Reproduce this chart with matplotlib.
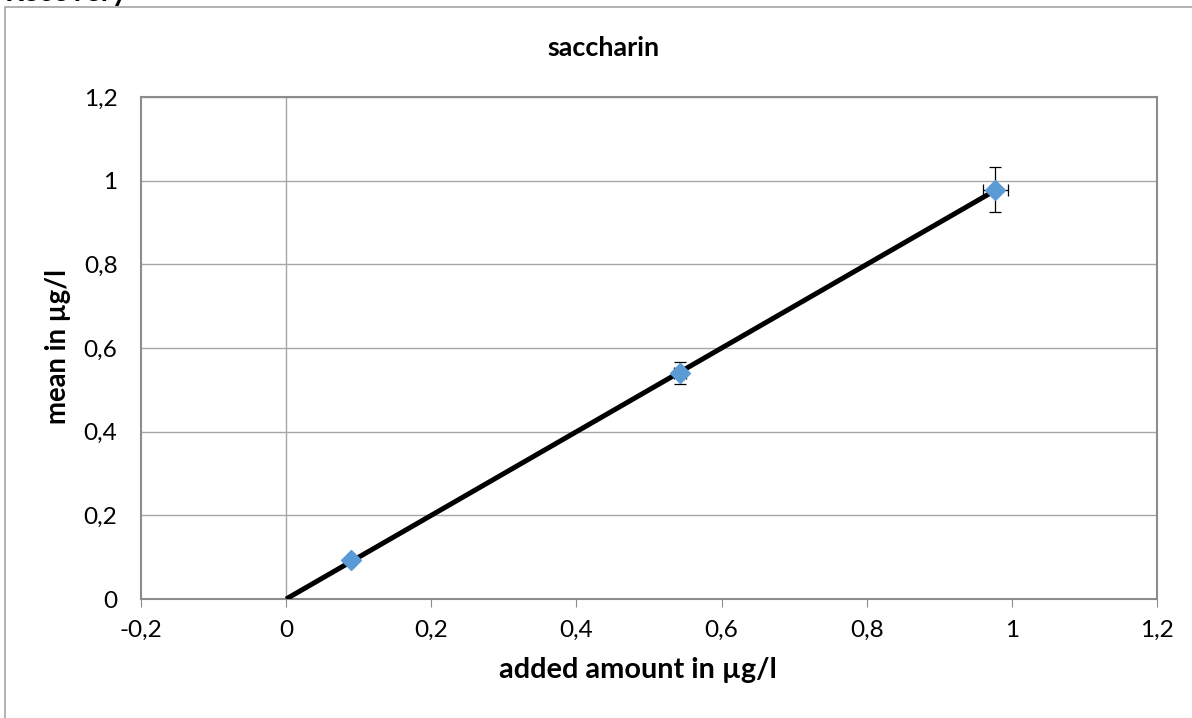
import numpy as np
import matplotlib.pyplot as plt
from matplotlib.patches import Rectangle
from matplotlib.ticker import FuncFormatter

plt.rcParams['font.family'] = ['Lato', 'DejaVu Sans']

# Recovery data (saccharin)
added = [0.090, 0.543, 0.977]
mean = [0.094, 0.540, 0.978]
x_err = [0.0, 0.008, 0.017]
y_err = [0.003, 0.026, 0.054]

# Trend line through origin
slope = np.sum(np.array(added) * np.array(mean)) / np.sum(np.array(added) ** 2)
trend_x = np.array([0.0, added[-1]])
trend_y = slope * trend_x

x_ticks = [-0.2, 0, 0.2, 0.4, 0.6, 0.8, 1, 1.2]
y_ticks = [0, 0.2, 0.4, 0.6, 0.8, 1, 1.2]

W, H = 1192, 718
fig = plt.figure(figsize=(W / 100, H / 100), dpi=100)
renderer = fig.canvas.get_renderer()


def fit_width(t, target, vertical=False):
    # scale the font so the text spans `target` pixels
    bb = t.get_window_extent(renderer)
    size = bb.height if vertical else bb.width
    t.set_fontsize(t.get_fontsize() * target / size)


# outer chart frame (partly outside the picture)
fig.patches.append(Rectangle((5 / W, -0.1), 1.2, 1 - 7 / H + 0.1,
                             transform=fig.transFigure, fill=False,
                             edgecolor='#a6a6a6', linewidth=1.2))
rec = fig.text(5 / W, 1 - 1 / H, "Recovery", fontsize=20, fontweight='bold',
               ha='left', va='baseline')
fit_width(rec, 123)

ax = fig.add_axes([141 / W, 1 - 599 / H, 1016 / W, 502 / H])

ax.plot(trend_x, trend_y, color='black', linewidth=3.6, zorder=3,
        solid_capstyle='butt')
ax.errorbar(added, mean, xerr=x_err, yerr=y_err, fmt='D', color='#5b9bd5',
            markersize=10, ecolor='black', elinewidth=0.9, capsize=4.5,
            capthick=0.9, zorder=4)

ax.set_xlim(-0.2, 1.2)
ax.set_ylim(0, 1.2)
ax.set_xticks(x_ticks)
ax.set_yticks(y_ticks)

fmt = FuncFormatter(lambda v, p: ('%g' % round(v, 2)).replace('.', ','))
ax.xaxis.set_major_formatter(fmt)
ax.yaxis.set_major_formatter(fmt)

ax.grid(axis='y', color='#a6a6a6', linewidth=1)
ax.axvline(0, color='#a6a6a6', linewidth=1, zorder=1)
ax.set_axisbelow(True)

for s in ax.spines.values():
    s.set_color('#8c8c8c')
    s.set_linewidth(1.5)

# tick label size from the width of "0,6" (about 34 px)
probe = fig.text(0, 0, "0,6", fontsize=18)
fit_width(probe, 34)
tick_size = probe.get_fontsize()
probe.remove()

ax.tick_params(axis='x', length=6, color='#8c8c8c', labelsize=tick_size, pad=9)
ax.tick_params(axis='y', length=0, labelsize=tick_size, pad=17)

title = fig.text(603 / W, 1 - 48 / H, "saccharin", fontsize=18,
                 fontweight='bold', ha='center', va='center')
fit_width(title, 113)
xlab = fig.text(638 / W, 1 - 670 / H, "added amount in µg/l", fontsize=20,
                fontweight='bold', ha='center', va='center')
fit_width(xlab, 278)
ylab = fig.text(58 / W, 1 - 347 / H, "mean in µg/l", fontsize=20,
                fontweight='bold', ha='center', va='center', rotation=90)
fit_width(ylab, 155, vertical=True)

fig.savefig("out.png", dpi=100)
